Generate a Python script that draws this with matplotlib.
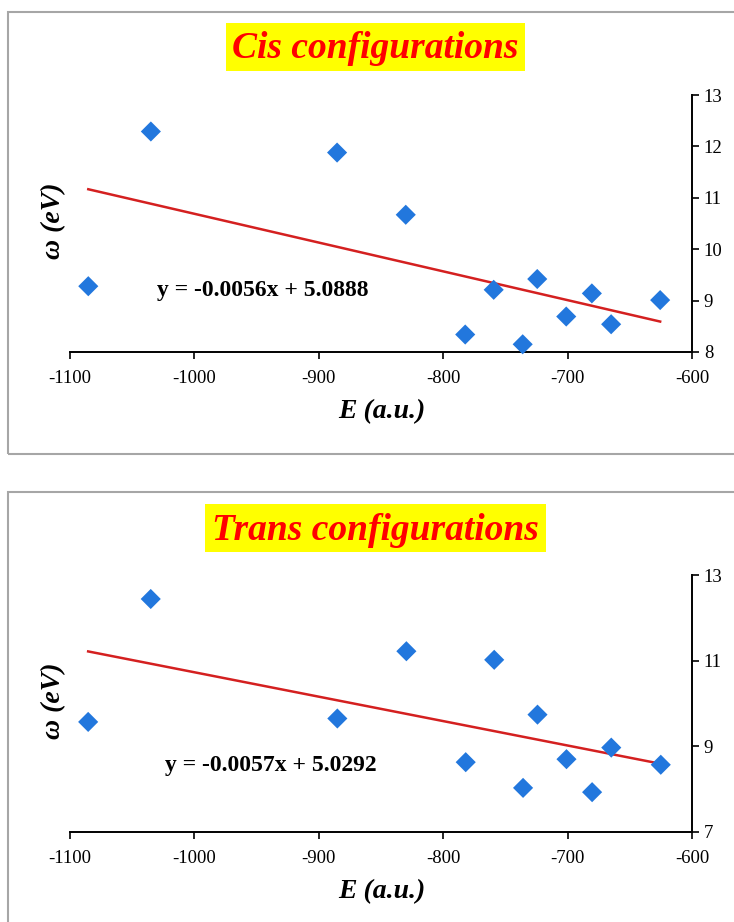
#!/usr/bin/env python3
"""
Electrophilicity (omega) vs total energy for cis and trans configurations.
"""

import numpy as np
import matplotlib
matplotlib.use('Agg')
import matplotlib.pyplot as plt
from matplotlib.patches import Rectangle

plt.rcParams['font.family'] = ['Liberation Serif', 'DejaVu Serif']
plt.rcParams['axes.unicode_minus'] = False

# Cis data
cis_E = [-1085.3, -1035.0, -885.3, -830.1, -782.3, -759.4,
         -736.1, -724.4, -701.1, -680.5, -665.0, -625.6]
cis_w = [9.28, 12.29, 11.88, 10.67, 8.34, 9.21,
         8.15, 9.42, 8.69, 9.14, 8.54, 9.01]
cis_fit = [-0.0056, 5.0888]

# Trans data
trans_E = [-1085.4, -1035.1, -885.1, -829.6, -781.9, -759.0,
           -735.8, -724.2, -700.9, -680.3, -664.9, -625.1]
trans_w = [9.57, 12.44, 9.65, 11.22, 8.63, 11.02,
           8.03, 9.74, 8.70, 7.93, 8.97, 8.57]
trans_fit = [-0.0057, 5.0292]

x_ticks = [-1100, -1000, -900, -800, -700, -600]
cis_yticks = [8, 9, 10, 11, 12, 13]
trans_yticks = [7, 9, 11, 13]

W, H = 734, 922
fig = plt.figure(figsize=(W / 100, H / 100), dpi=100)


def fx(px):
    return px / W


def fy(py):
    return 1 - py / H


def panel(top, title, box, E, w, fit, yticks, eq_pos):
    # gray frame around the panel
    fig.patches.append(Rectangle((fx(8), fy(top + 442)), fx(760), 442 / H,
                                 transform=fig.transFigure, fill=False,
                                 edgecolor='#a6a6a6', linewidth=1.5))
    # yellow title box
    x0, y0, x1, y1 = box
    fig.patches.append(Rectangle((fx(x0), fy(y1)), fx(x1 - x0), (y1 - y0) / H,
                                 transform=fig.transFigure, facecolor='#ffff00',
                                 edgecolor='none'))
    fig.text(fx((x0 + x1) / 2), fy((y0 + y1) / 2 + 2), title, color='#ff0000',
             fontsize=27, fontweight='bold', fontstyle='italic',
             ha='center', va='center')

    ax = fig.add_axes([fx(70), fy(top + 340), fx(622), 257 / H])
    ax.scatter(E, w, marker='D', s=105, color='#2277dd', edgecolors='none',
               zorder=3, clip_on=False)
    xl = np.array([min(E), max(E)])
    ax.plot(xl, fit[0] * xl + fit[1], color='#d42020', linewidth=1.8, zorder=2)

    ax.set_xlim(-1100, -600)
    ax.set_ylim(yticks[0], yticks[-1])
    ax.set_xticks(x_ticks)
    ax.set_yticks(yticks)
    ax.yaxis.tick_right()
    for s in ['left', 'top']:
        ax.spines[s].set_visible(False)
    for s in ['right', 'bottom']:
        ax.spines[s].set_linewidth(1.4)
    ax.tick_params(direction='out', length=5, width=1.2, labelsize=13.5,
                   colors='black')
    ax.tick_params(axis='x', pad=8)
    ax.set_facecolor('none')

    sign = '+' if fit[1] >= 0 else '-'
    ax.text(eq_pos[0], eq_pos[1], f'y = {fit[0]:.4f}x {sign} {abs(fit[1]):.4f}',
            fontsize=17, fontweight='bold', ha='left', va='center')

    fig.text(fx(382), fy(top + 400), 'E (a.u.)', fontsize=20, fontweight='bold',
             fontstyle='italic', ha='center', va='center')
    fig.text(fx(54), fy(top + 209), 'ω (eV)', fontsize=20, fontweight='bold',
             fontstyle='italic', ha='center', va='center', rotation=90)
    return ax


panel(12, 'Cis configurations', (226, 23, 525, 71), cis_E, cis_w, cis_fit,
      cis_yticks, (-1030, 9.2))
panel(492, 'Trans configurations', (205, 504, 546, 552), trans_E, trans_w,
      trans_fit, trans_yticks, (-1024, 8.55))

plt.savefig('out.png', dpi=100)
plt.close()
